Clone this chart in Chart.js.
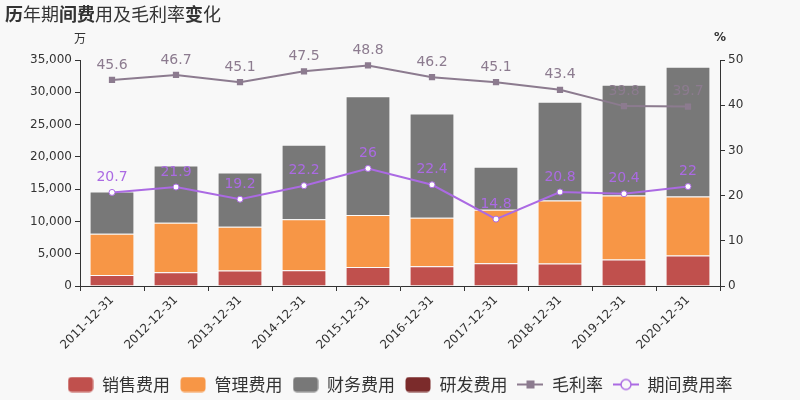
<!DOCTYPE html>
<html><head><meta charset="utf-8">
<script src="https://cdn.jsdelivr.net/npm/chart.js@4/dist/chart.umd.min.js"></script>
<style>html,body{margin:0;padding:0;background:#f8f8f8;}#wrap{width:800px;height:400px;}</style>
</head><body><div id="wrap"><canvas id="c" width="800" height="400"></canvas></div>
<script>
const categories = ['2011-12-31','2012-12-31','2013-12-31','2014-12-31','2015-12-31','2016-12-31','2017-12-31','2018-12-31','2019-12-31','2020-12-31'];
const salesExp = [1710, 2130, 2385, 2440, 2956, 3060, 3530, 3475, 4090, 4720];
const adminExp = [6380, 7670, 6793, 7880, 8044, 7520, 8296, 9751, 9910, 9130];
const financeExp = [6533, 8867, 8400, 11570, 18400, 16130, 6644, 15294, 17170, 20120];
const rdExp = [0, 0, 0, 0, 0, 0, 0, 0, 0, 0];
const grossMargin = [45.6, 46.7, 45.1, 47.5, 48.8, 46.2, 45.1, 43.4, 39.8, 39.7];
const expenseRate = [20.7, 21.9, 19.2, 22.2, 26, 22.4, 14.8, 20.8, 20.4, 22];
const leftTicks = {min: 0, max: 35000, step: 5000};
const rightTicks = {min: 0, max: 50, step: 10};

const C_SALES = '#c0504d', C_ADMIN = '#f79646', C_FIN = '#787878', C_RD = '#7b2b2b';
const C_GM = '#8c7b8f', C_ER = '#ab6ae3';

Chart.defaults.font.family = 'DejaVu Sans';
Chart.defaults.color = '#333';

function boxIcon(color) {
  const cv = document.createElement('canvas'); cv.width = 26; cv.height = 16;
  const g = cv.getContext('2d'); g.fillStyle = color;
  g.beginPath(); g.roundRect(0.5, 0.5, 25, 15, 4); g.fill();
  return cv;
}
function lineIcon(color, kind) {
  const cv = document.createElement('canvas'); cv.width = 26; cv.height = 16;
  const g = cv.getContext('2d'); g.strokeStyle = color; g.lineWidth = 2;
  g.beginPath(); g.moveTo(0, 8); g.lineTo(26, 8); g.stroke();
  if (kind === 'rect') { g.fillStyle = color; g.fillRect(9, 4, 8, 8); }
  else { g.fillStyle = '#f8f8f8'; g.lineWidth = 1.5; g.beginPath(); g.arc(13, 8, 5, 0, Math.PI * 2); g.fill(); g.stroke(); }
  return cv;
}

const bgPlugin = {
  id: 'bg',
  beforeDraw(chart) { const c = chart.ctx; c.save(); c.fillStyle = '#f8f8f8'; c.fillRect(0, 0, chart.width, chart.height); c.restore(); }
};

const textPlugin = {
  id: 'texts',
  afterDatasetsDraw(chart) {
    const c = chart.ctx; c.save();
    c.font = '14px DejaVu Sans'; c.textAlign = 'center'; c.textBaseline = 'middle';
    [[4, grossMargin, C_GM], [5, expenseRate, C_ER]].forEach(([di, vals, col]) => {
      const meta = chart.getDatasetMeta(di);
      c.fillStyle = col;
      meta.data.forEach((pt, i) => { c.fillText(String(vals[i]), pt.x, pt.y - 15); });
    });
    c.restore();
  },
  afterDraw(chart) {
    const c = chart.ctx; c.save();
    const title = '历年期间费用及毛利率变化';
    const boldSet = new Set(['历', '间', '费', '变']);
    let x = 5;
    c.textBaseline = 'middle'; c.fillStyle = '#333'; c.textAlign = 'left';
    for (const ch of title) {
      c.font = (boldSet.has(ch) ? 'bold ' : '') + '18px "Noto Sans CJK SC"';
      c.fillText(ch, x, 14);
      x += c.measureText(ch).width;
    }
    c.font = '12px "Noto Sans CJK SC"'; c.textAlign = 'center';
    c.fillText('万', chart.chartArea.left, 38);
    c.font = 'bold 12px DejaVu Sans';
    c.fillText('%', chart.chartArea.right, 38);
    c.restore();
  }
};

const gridOpts = {drawOnChartArea: false, drawTicks: true, tickLength: 5, color: '#333'};

new Chart(document.getElementById('c'), {
  data: {
    labels: categories,
    datasets: [
      {type: 'bar', label: '销售费用', data: salesExp, backgroundColor: C_SALES, borderColor: 'rgba(255,255,255,0.45)', borderWidth: 1, yAxisID: 'y', stack: 's', order: 2},
      {type: 'bar', label: '管理费用', data: adminExp, backgroundColor: C_ADMIN, borderColor: 'rgba(255,255,255,0.45)', borderWidth: 1, yAxisID: 'y', stack: 's', order: 2},
      {type: 'bar', label: '财务费用', data: financeExp, backgroundColor: C_FIN, borderColor: 'rgba(255,255,255,0.45)', borderWidth: 1, yAxisID: 'y', stack: 's', order: 2},
      {type: 'bar', label: '研发费用', data: rdExp, backgroundColor: C_RD, borderColor: 'rgba(255,255,255,0.45)', borderWidth: 0, yAxisID: 'y', stack: 's', order: 2},
      {type: 'line', label: '毛利率', data: grossMargin, borderColor: C_GM, backgroundColor: C_GM, borderWidth: 2, pointStyle: 'rect', pointRadius: 3, pointBackgroundColor: C_GM, pointBorderColor: C_GM, yAxisID: 'y1', order: 1, tension: 0},
      {type: 'line', label: '期间费用率', data: expenseRate, borderColor: C_ER, backgroundColor: '#fff', borderWidth: 2, pointStyle: 'circle', pointRadius: 3, pointBackgroundColor: '#fff', pointBorderColor: C_ER, pointBorderWidth: 1, yAxisID: 'y1', order: 0, tension: 0}
    ]
  },
  options: {
    responsive: false,
    animation: false,
    layout: {padding: {top: 60, left: 0, right: 0, bottom: -3}},
    datasets: {bar: {categoryPercentage: 1.0, barPercentage: 0.7}},
    plugins: {
      tooltip: {enabled: false},
      title: {display: false},
      legend: {
        position: 'bottom',
        labels: {
          usePointStyle: true, pointStyleWidth: 26, padding: 10,
          font: {size: 17, family: '"Noto Sans CJK SC"'}, color: '#333',
          generateLabels(chart) {
            const icons = [boxIcon(C_SALES), boxIcon(C_ADMIN), boxIcon(C_FIN), boxIcon(C_RD), lineIcon(C_GM, 'rect'), lineIcon(C_ER, 'circle')];
            return chart.data.datasets.map((ds, i) => ({text: ds.label, pointStyle: icons[i], datasetIndex: i, hidden: false, lineWidth: 0, strokeStyle: 'transparent', fillStyle: 'transparent', fontColor: '#333'}));
          }
        }
      }
    },
    scales: {
      x: {
        stacked: true,
        grid: Object.assign({offset: true}, gridOpts),
        border: {display: true, color: '#333'},
        ticks: {minRotation: 45, maxRotation: 45, font: {size: 12}, color: '#333', padding: 2},
        afterFit(s) { s.height = 80; }
      },
      y: {
        position: 'left', stacked: true, min: leftTicks.min, max: leftTicks.max,
        grid: gridOpts, border: {display: true, color: '#333'},
        ticks: {stepSize: leftTicks.step, font: {size: 12}, color: '#333', padding: 3},
        afterFit(s) { s.width = 80; }
      },
      y1: {
        position: 'right', min: rightTicks.min, max: rightTicks.max,
        grid: gridOpts, border: {display: true, color: '#333'},
        ticks: {stepSize: rightTicks.step, font: {size: 12}, color: '#333', padding: 3},
        afterFit(s) { s.width = 80; }
      }
    }
  },
  plugins: [bgPlugin, textPlugin]
});
</script></body></html>
